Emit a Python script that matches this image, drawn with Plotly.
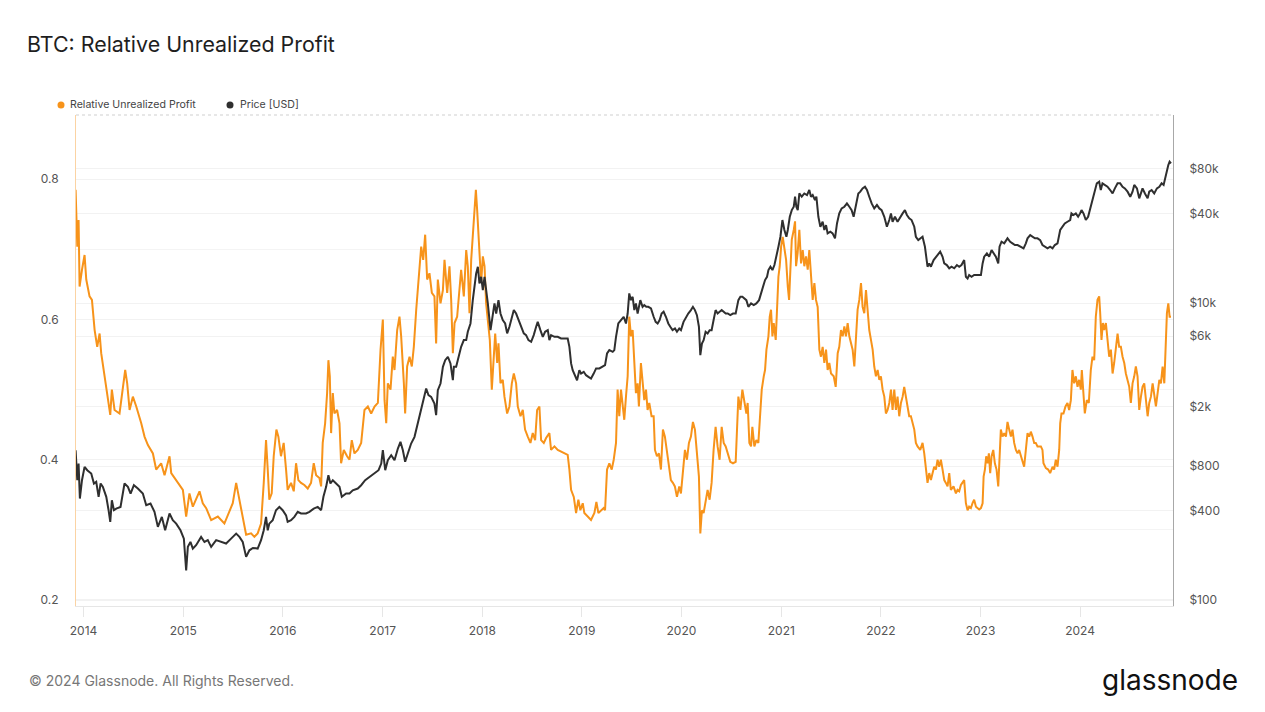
import pandas as pd
import plotly.graph_objects as go

# ---------------- data ----------------
# time given as decimal years
rup_years = [
    2013.920, 2013.937, 2013.950, 2013.960, 2013.984, 2014.010, 2014.027, 2014.060, 2014.084, 2014.111,
    2014.137, 2014.161, 2014.177, 2014.211, 2014.244, 2014.268, 2014.284, 2014.311, 2014.361, 2014.395,
    2014.418, 2014.438, 2014.462, 2014.495, 2014.529, 2014.579, 2014.612, 2014.646, 2014.696, 2014.729,
    2014.779, 2014.813, 2014.863, 2014.880, 2014.946, 2014.997, 2015.030, 2015.063, 2015.097, 2015.164,
    2015.197, 2015.231, 2015.281, 2015.348, 2015.414, 2015.465, 2015.498, 2015.532, 2015.565, 2015.582,
    2015.615, 2015.632, 2015.682,
    2015.715, 2015.748, 2015.782, 2015.809, 2015.832, 2015.849, 2015.865, 2015.889, 2015.909, 2015.936,
    2015.956, 2015.982, 2016.009, 2016.033, 2016.049, 2016.083, 2016.110, 2016.133, 2016.156, 2016.183,
    2016.216, 2016.250, 2016.283, 2016.310, 2016.334, 2016.367, 2016.384, 2016.400, 2016.424, 2016.444,
    2016.457, 2016.471, 2016.484, 2016.501, 2016.517, 2016.544, 2016.568, 2016.584, 2016.611, 2016.644,
    2016.668, 2016.691, 2016.718, 2016.751, 2016.785, 2016.818, 2016.852, 2016.885, 2016.919, 2016.952,
    2016.979, 2017.002, 2017.019, 2017.036, 2017.052, 2017.079, 2017.102, 2017.119, 2017.146, 2017.169,
    2017.186, 2017.213, 2017.226, 2017.246, 2017.270, 2017.293, 2017.313, 2017.337, 2017.360, 2017.387,
    2017.407, 2017.427, 2017.447, 2017.470, 2017.494, 2017.520, 2017.537,
    2017.554, 2017.581, 2017.605, 2017.621, 2017.648, 2017.671, 2017.688, 2017.705, 2017.722, 2017.748,
    2017.772, 2017.788, 2017.815, 2017.839, 2017.855, 2017.872, 2017.889, 2017.905, 2017.922, 2017.936,
    2017.949, 2017.962, 2017.976, 2017.989, 2018.006, 2018.023, 2018.039, 2018.056, 2018.076, 2018.096,
    2018.116, 2018.130, 2018.150, 2018.163, 2018.183, 2018.206, 2018.223, 2018.250, 2018.273, 2018.297,
    2018.317, 2018.340, 2018.357, 2018.384, 2018.407, 2018.430, 2018.457, 2018.484, 2018.507, 2018.531,
    2018.551, 2018.574, 2018.591, 2018.618, 2018.641, 2018.674, 2018.691, 2018.725, 2018.758, 2018.791,
    2018.825, 2018.858, 2018.875, 2018.892, 2018.919, 2018.942, 2018.965, 2018.985, 2019.009, 2019.025,
    2019.059, 2019.092, 2019.126, 2019.146, 2019.166, 2019.193, 2019.219, 2019.233, 2019.253, 2019.276,
    2019.300, 2019.320,
    2019.343, 2019.359, 2019.376, 2019.393, 2019.410, 2019.426, 2019.443, 2019.460, 2019.476, 2019.493,
    2019.510, 2019.527, 2019.543, 2019.560, 2019.573, 2019.593, 2019.610, 2019.627, 2019.644, 2019.660,
    2019.677, 2019.700, 2019.721, 2019.734, 2019.754, 2019.774, 2019.794, 2019.814, 2019.834, 2019.854,
    2019.878, 2019.894, 2019.914, 2019.934, 2019.955, 2019.978, 2019.995, 2020.015, 2020.035, 2020.055,
    2020.075, 2020.095, 2020.115, 2020.135, 2020.155, 2020.175, 2020.189, 2020.205, 2020.222, 2020.242,
    2020.262, 2020.282, 2020.302, 2020.322, 2020.342, 2020.362, 2020.382, 2020.403, 2020.423, 2020.443,
    2020.463, 2020.489, 2020.516, 2020.543, 2020.570, 2020.590, 2020.610, 2020.630, 2020.650, 2020.663,
    2020.680, 2020.697, 2020.710, 2020.730, 2020.750, 2020.770, 2020.784, 2020.804, 2020.824, 2020.837,
    2020.851, 2020.871, 2020.884, 2020.897, 2020.911, 2020.924, 2020.944, 2020.958, 2020.971, 2020.984,
    2020.998, 2021.014, 2021.031, 2021.048, 2021.065, 2021.078, 2021.091, 2021.105, 2021.125, 2021.138,
    2021.148, 2021.164, 2021.181, 2021.198, 2021.215, 2021.231, 2021.248, 2021.265, 2021.281, 2021.298,
    2021.315, 2021.332, 2021.348, 2021.365, 2021.382, 2021.398, 2021.415, 2021.432, 2021.449, 2021.465,
    2021.482, 2021.499, 2021.526, 2021.546, 2021.566, 2021.582, 2021.599, 2021.616, 2021.633, 2021.649,
    2021.666, 2021.683, 2021.699, 2021.716, 2021.733, 2021.750, 2021.766, 2021.783, 2021.800, 2021.816,
    2021.833, 2021.850, 2021.867, 2021.883, 2021.900, 2021.917, 2021.933, 2021.950, 2021.967, 2021.984,
    2022.000, 2022.017, 2022.034, 2022.050, 2022.067, 2022.084, 2022.101, 2022.117, 2022.134, 2022.151,
    2022.167, 2022.184, 2022.201, 2022.218, 2022.234, 2022.251, 2022.268, 2022.284, 2022.301, 2022.318,
    2022.335, 2022.351, 2022.368, 2022.395, 2022.418, 2022.435, 2022.452, 2022.468, 2022.485, 2022.502,
    2022.519, 2022.535, 2022.552, 2022.569, 2022.585, 2022.602, 2022.619, 2022.636, 2022.652, 2022.669,
    2022.686, 2022.702, 2022.729, 2022.753, 2022.769, 2022.786, 2022.803, 2022.819, 2022.836, 2022.853,
    2022.870, 2022.886, 2022.903, 2022.920, 2022.936,
    2022.954, 2022.970, 2022.987, 2023.004, 2023.021, 2023.031, 2023.044, 2023.057, 2023.071, 2023.084,
    2023.097, 2023.111, 2023.128, 2023.144, 2023.161, 2023.178, 2023.191, 2023.204, 2023.221, 2023.238,
    2023.255, 2023.271, 2023.288, 2023.305, 2023.321, 2023.338, 2023.355, 2023.372, 2023.388, 2023.405,
    2023.422, 2023.438, 2023.455, 2023.472, 2023.489, 2023.505, 2023.522, 2023.539, 2023.555, 2023.572,
    2023.606, 2023.622, 2023.632, 2023.656, 2023.679, 2023.699, 2023.723, 2023.739, 2023.756, 2023.773,
    2023.790, 2023.800, 2023.813, 2023.833, 2023.853, 2023.873, 2023.890, 2023.907, 2023.923, 2023.940,
    2023.957, 2023.974, 2023.990, 2024.007, 2024.017, 2024.034, 2024.047, 2024.067, 2024.087, 2024.107,
    2024.124, 2024.141, 2024.157, 2024.174, 2024.191, 2024.201, 2024.214, 2024.228, 2024.241, 2024.258,
    2024.274, 2024.291, 2024.308, 2024.325, 2024.341, 2024.358, 2024.375, 2024.391, 2024.408, 2024.425,
    2024.442, 2024.458, 2024.475, 2024.492, 2024.508, 2024.525, 2024.542, 2024.558, 2024.575, 2024.592,
    2024.609, 2024.625, 2024.642, 2024.659, 2024.676, 2024.692, 2024.709, 2024.726, 2024.742, 2024.759,
    2024.776, 2024.793, 2024.809, 2024.826, 2024.843, 2024.856, 2024.869, 2024.883, 2024.896, 2024.910,
]
rup_values = [
    0.785, 0.704, 0.742, 0.647, 0.671, 0.692, 0.657, 0.633, 0.628, 0.585,
    0.561, 0.580, 0.552, 0.519, 0.490, 0.464, 0.500, 0.471, 0.466, 0.504,
    0.528, 0.509, 0.471, 0.490, 0.476, 0.452, 0.433, 0.421, 0.409, 0.386,
    0.395, 0.378, 0.405, 0.381, 0.367, 0.357, 0.319, 0.352, 0.333, 0.355,
    0.338, 0.331, 0.314, 0.319, 0.309, 0.328, 0.338, 0.367, 0.343, 0.331,
    0.309, 0.293, 0.295,
    0.290, 0.295, 0.309, 0.367, 0.428, 0.386, 0.343, 0.352, 0.405, 0.443,
    0.433, 0.405, 0.424, 0.386, 0.357, 0.367, 0.355, 0.395, 0.371, 0.367,
    0.364, 0.359, 0.367, 0.395, 0.378, 0.374, 0.362, 0.424, 0.452, 0.495,
    0.542, 0.519, 0.438, 0.495, 0.466, 0.471, 0.452, 0.395, 0.414, 0.405,
    0.400, 0.428, 0.409, 0.414, 0.424, 0.471, 0.476, 0.466, 0.476, 0.481,
    0.557, 0.600, 0.485, 0.452, 0.509, 0.500, 0.547, 0.528, 0.585, 0.604,
    0.576, 0.509, 0.466, 0.533, 0.547, 0.533, 0.561, 0.614, 0.657, 0.704,
    0.685, 0.721, 0.657, 0.666, 0.638, 0.633, 0.566,
    0.657, 0.623, 0.642, 0.685, 0.638, 0.676, 0.628, 0.552, 0.595, 0.604,
    0.642, 0.671, 0.633, 0.699, 0.676, 0.609, 0.685, 0.718, 0.747, 0.785,
    0.756, 0.718, 0.685, 0.652, 0.690, 0.676, 0.623, 0.595, 0.571, 0.500,
    0.557, 0.580, 0.538, 0.566, 0.509, 0.514, 0.490, 0.466, 0.476, 0.509,
    0.523, 0.509, 0.476, 0.462, 0.471, 0.443, 0.433, 0.424, 0.438, 0.428,
    0.471, 0.476, 0.428, 0.424, 0.431, 0.438, 0.414, 0.419, 0.414, 0.412,
    0.409, 0.407, 0.386, 0.357, 0.347, 0.324, 0.343, 0.328, 0.338, 0.324,
    0.319, 0.314, 0.324, 0.340, 0.324, 0.328, 0.331, 0.328, 0.386, 0.395,
    0.386, 0.400,
    0.424, 0.500, 0.462, 0.500, 0.481, 0.457, 0.490, 0.519, 0.604, 0.576,
    0.585, 0.538, 0.495, 0.509, 0.476, 0.538, 0.514, 0.485, 0.500, 0.471,
    0.481, 0.462, 0.462, 0.414, 0.405, 0.409, 0.386, 0.443, 0.433, 0.414,
    0.386, 0.371, 0.367, 0.362, 0.347, 0.362, 0.352, 0.390, 0.414, 0.400,
    0.424, 0.433, 0.454, 0.443, 0.414, 0.376, 0.295, 0.328, 0.324, 0.338,
    0.357, 0.343, 0.367, 0.414, 0.447, 0.419, 0.400, 0.447, 0.424, 0.419,
    0.409, 0.397, 0.395, 0.397, 0.490, 0.471, 0.500, 0.485, 0.466, 0.481,
    0.424, 0.419, 0.447, 0.419, 0.428, 0.424, 0.457, 0.500, 0.519, 0.528,
    0.557, 0.576, 0.604, 0.614, 0.576, 0.595, 0.571, 0.623, 0.661, 0.676,
    0.704, 0.718, 0.704, 0.685, 0.647, 0.628, 0.671, 0.714, 0.728, 0.740,
    0.676, 0.695, 0.728, 0.680, 0.699, 0.676, 0.690, 0.671, 0.699, 0.661,
    0.628, 0.652, 0.628, 0.618, 0.557, 0.547, 0.561, 0.538, 0.557, 0.528,
    0.538, 0.523, 0.519, 0.504, 0.552, 0.561, 0.585, 0.576, 0.590, 0.576,
    0.595, 0.576, 0.566, 0.557, 0.533, 0.580, 0.614, 0.628, 0.652, 0.618,
    0.609, 0.642, 0.604, 0.585, 0.571, 0.557, 0.533, 0.519, 0.528, 0.514,
    0.519, 0.500, 0.490, 0.466, 0.471, 0.481, 0.500, 0.471, 0.500, 0.471,
    0.490, 0.462, 0.481, 0.490, 0.504, 0.490, 0.471, 0.462, 0.462, 0.452,
    0.443, 0.424, 0.419, 0.414, 0.424, 0.409, 0.386, 0.367, 0.381, 0.371,
    0.381, 0.390, 0.386, 0.400, 0.390, 0.400, 0.386, 0.371, 0.367, 0.362,
    0.381, 0.357, 0.362, 0.352, 0.357, 0.355, 0.364, 0.367, 0.371, 0.338,
    0.328, 0.333, 0.331, 0.338, 0.343,
    0.333, 0.331, 0.329, 0.331, 0.338, 0.376, 0.386, 0.405, 0.395, 0.409,
    0.381, 0.405, 0.414, 0.395, 0.386, 0.362, 0.414, 0.443, 0.433, 0.438,
    0.433, 0.454, 0.443, 0.433, 0.443, 0.424, 0.414, 0.409, 0.414, 0.405,
    0.400, 0.390, 0.414, 0.438, 0.433, 0.440, 0.433, 0.424, 0.424, 0.419,
    0.419, 0.414, 0.395, 0.388, 0.386, 0.381, 0.390, 0.386, 0.400, 0.390,
    0.414, 0.452, 0.466, 0.466, 0.476, 0.481, 0.471, 0.485, 0.528, 0.509,
    0.519, 0.504, 0.514, 0.500, 0.528, 0.495, 0.466, 0.485, 0.481, 0.528,
    0.547, 0.542, 0.604, 0.628, 0.633, 0.609, 0.571, 0.595, 0.585, 0.595,
    0.566, 0.547, 0.557, 0.523, 0.538, 0.557, 0.580, 0.561, 0.561, 0.547,
    0.538, 0.523, 0.514, 0.504, 0.481, 0.509, 0.519, 0.533, 0.519, 0.471,
    0.490, 0.504, 0.509, 0.481, 0.462, 0.481, 0.490, 0.509, 0.490, 0.476,
    0.495, 0.514, 0.509, 0.533, 0.509, 0.557, 0.609, 0.623, 0.604, 0.604,
]

price_years = [
    2013.920, 2013.937, 2013.950, 2013.963, 2013.984, 2014.010, 2014.037, 2014.077, 2014.104, 2014.127,
    2014.151, 2014.171, 2014.194, 2014.228, 2014.251, 2014.268, 2014.284, 2014.305, 2014.328, 2014.371,
    2014.411, 2014.445, 2014.472, 2014.505, 2014.545, 2014.595, 2014.629, 2014.672, 2014.712, 2014.746,
    2014.786, 2014.819, 2014.863, 2014.896, 2014.930, 2014.973, 2015.007, 2015.030, 2015.047, 2015.073,
    2015.097, 2015.130, 2015.180, 2015.214, 2015.247, 2015.281, 2015.331, 2015.381, 2015.431, 2015.481,
    2015.532, 2015.565, 2015.598, 2015.632, 2015.665, 2015.700,
    2015.748, 2015.782, 2015.809, 2015.832, 2015.849, 2015.865, 2015.899, 2015.932, 2015.966, 2015.999,
    2016.033, 2016.049, 2016.083, 2016.116, 2016.150, 2016.183, 2016.233, 2016.267, 2016.310, 2016.350,
    2016.384, 2016.407, 2016.434, 2016.457, 2016.477, 2016.501, 2016.534, 2016.568, 2016.591, 2016.634,
    2016.668, 2016.701, 2016.751, 2016.785, 2016.825, 2016.868, 2016.919, 2016.959, 2016.986, 2017.002,
    2017.026, 2017.052, 2017.086, 2017.119, 2017.153, 2017.179, 2017.203, 2017.226, 2017.253, 2017.286,
    2017.320, 2017.353, 2017.387, 2017.414, 2017.437, 2017.460, 2017.487, 2017.520, 2017.537, 2017.554,
    2017.581, 2017.605, 2017.628, 2017.655, 2017.681, 2017.705, 2017.715, 2017.738, 2017.762, 2017.788,
    2017.815, 2017.839, 2017.855, 2017.882, 2017.905, 2017.922, 2017.939, 2017.956, 2017.972, 2017.989,
    2018.006, 2018.023, 2018.039, 2018.056, 2018.083, 2018.106, 2018.123, 2018.140, 2018.163, 2018.183,
    2018.206, 2018.230, 2018.250, 2018.273, 2018.297, 2018.317, 2018.340, 2018.364, 2018.390, 2018.417,
    2018.440, 2018.464, 2018.491, 2018.517, 2018.541, 2018.557, 2018.584, 2018.608, 2018.631, 2018.658,
    2018.674, 2018.691, 2018.725, 2018.758, 2018.791, 2018.825, 2018.858, 2018.875, 2018.892, 2018.908,
    2018.925, 2018.952, 2018.975, 2018.992, 2019.019, 2019.042, 2019.066, 2019.092, 2019.119, 2019.143,
    2019.176, 2019.209, 2019.233, 2019.253, 2019.276, 2019.310,
    2019.326, 2019.343, 2019.366, 2019.393, 2019.420, 2019.443, 2019.460, 2019.476, 2019.493, 2019.510,
    2019.527, 2019.543, 2019.560, 2019.587, 2019.610, 2019.627, 2019.647, 2019.667, 2019.694, 2019.721,
    2019.741, 2019.761, 2019.781, 2019.801, 2019.821, 2019.844, 2019.868, 2019.888, 2019.911, 2019.935,
    2019.955, 2019.978, 2019.995, 2020.021, 2020.045, 2020.068, 2020.095, 2020.115, 2020.135, 2020.155,
    2020.175, 2020.189, 2020.205, 2020.222, 2020.242, 2020.262, 2020.282, 2020.302, 2020.322, 2020.342,
    2020.362, 2020.382, 2020.403, 2020.423, 2020.443, 2020.463, 2020.489, 2020.516, 2020.543, 2020.570,
    2020.590, 2020.610, 2020.630, 2020.650, 2020.670, 2020.697, 2020.724, 2020.750, 2020.777, 2020.797,
    2020.817, 2020.837, 2020.857, 2020.871, 2020.891, 2020.911, 2020.931, 2020.951, 2020.971, 2020.991,
    2021.011, 2021.031, 2021.051, 2021.065, 2021.085, 2021.105, 2021.125, 2021.138, 2021.151, 2021.165,
    2021.181, 2021.205, 2021.231, 2021.258, 2021.281, 2021.298, 2021.315, 2021.338, 2021.352, 2021.372,
    2021.392, 2021.415, 2021.432, 2021.449, 2021.465, 2021.492, 2021.515, 2021.539, 2021.559, 2021.582,
    2021.606, 2021.633, 2021.659, 2021.683, 2021.706, 2021.726, 2021.750, 2021.773, 2021.793, 2021.816,
    2021.840, 2021.860, 2021.883, 2021.907, 2021.933, 2021.960, 2021.984, 2022.007, 2022.034, 2022.060,
    2022.084, 2022.101, 2022.117, 2022.141, 2022.167, 2022.194, 2022.218, 2022.241, 2022.261, 2022.284,
    2022.308, 2022.335, 2022.351, 2022.375, 2022.401, 2022.418, 2022.442, 2022.455, 2022.468, 2022.485,
    2022.502, 2022.529, 2022.552, 2022.575, 2022.595, 2022.619, 2022.636, 2022.662, 2022.686, 2022.709,
    2022.736, 2022.763, 2022.786, 2022.809, 2022.836, 2022.853, 2022.870, 2022.886, 2022.910, 2022.936,
    2022.970, 2023.004, 2023.021, 2023.037, 2023.064, 2023.087, 2023.111, 2023.131, 2023.154, 2023.178,
    2023.191, 2023.211, 2023.238, 2023.271, 2023.298, 2023.321, 2023.345, 2023.372, 2023.405, 2023.432,
    2023.455, 2023.472, 2023.499, 2023.522, 2023.546, 2023.572, 2023.599, 2023.622, 2023.646, 2023.673,
    2023.699, 2023.723, 2023.746, 2023.773, 2023.800, 2023.823, 2023.846, 2023.873, 2023.900, 2023.913,
    2023.933, 2023.957, 2023.980, 2024.000, 2024.014, 2024.034, 2024.057, 2024.080, 2024.107, 2024.124,
    2024.147, 2024.167, 2024.191, 2024.207, 2024.224, 2024.248, 2024.274, 2024.301, 2024.325, 2024.348,
    2024.375, 2024.401, 2024.425, 2024.448, 2024.475, 2024.502, 2024.525, 2024.542, 2024.569, 2024.592,
    2024.609, 2024.625, 2024.649, 2024.676, 2024.692, 2024.716, 2024.742, 2024.769, 2024.793, 2024.816,
    2024.836, 2024.853, 2024.869, 2024.883, 2024.896, 2024.910,
]
price_values = [
    1023, 643, 832, 484, 643, 791, 751, 713, 611, 627,
    497, 611, 580, 497, 404, 337, 471, 404, 414, 425,
    611, 580, 523, 595, 565, 523, 436, 448, 394, 312,
    364, 296, 384, 346, 328, 296, 260, 159, 229, 247,
    223, 235, 267, 247, 254, 229, 254, 247, 241, 260,
    281, 267, 247, 196, 217, 225,
    223, 254, 296, 364, 296, 328, 346, 404, 425, 404,
    373, 337, 346, 364, 394, 384, 384, 394, 414, 425,
    404, 497, 580, 695, 611, 643, 611, 580, 497, 523,
    523, 550, 565, 595, 643, 677, 713, 751, 832, 1023,
    751, 877, 947, 877, 1050, 1164, 1023, 855, 972, 1135,
    1259, 1548, 1903, 2222, 2662, 2402, 2340, 2110, 1761, 2596,
    2877, 3724, 4130, 4355, 3926, 3027, 3724, 3724, 4355, 5082,
    5636, 5636, 6412, 7296, 10470, 13550, 15840, 17570, 13550, 15040,
    12240, 15040, 11620, 9950, 6577, 8091, 9950, 8511, 10470, 8511,
    7691, 7296, 6252, 6935, 8091, 8974, 8511, 7691, 6935, 6252,
    6095, 5636, 5495, 6095, 6935, 7482, 6577, 5933, 6412, 6577,
    5636, 6095, 5933, 5933, 5781, 5781, 5781, 5082, 3926, 3540,
    3357, 3027, 3540, 3357, 3449, 3273, 3190, 3110, 3357, 3633,
    3633, 3724, 3827, 4581, 4827, 4701,
    4827, 5933, 7296, 7691, 8091, 7296, 8511, 11620, 10470, 11030,
    8974, 9950, 8511, 10470, 9441, 9690, 9441, 9441, 9206, 8091,
    7482, 7296, 7691, 8511, 8750, 8091, 7296, 6935, 6577, 6745,
    6412, 6745, 6577, 7482, 8091, 8511, 8974, 9441, 8974, 8298,
    6935, 4467, 5346, 5636, 6412, 6252, 6577, 6577, 7691, 8974,
    8511, 8750, 8974, 8750, 8511, 8511, 8298, 8511, 8511, 10470,
    11030, 11030, 10740, 10470, 9441, 9950, 9690, 9950, 10470, 11620,
    12880, 14290, 15040, 16680, 17570, 16680, 18040, 20520, 23950, 27970,
    36230, 31040, 27970, 31040, 38120, 42270, 44540, 52000, 44540, 42270,
    54700, 52000, 54700, 53350, 57680, 52000, 53350, 49430, 52000, 38120,
    32660, 35290, 31040, 33490, 29460, 30250, 29460, 27290, 34370, 40160,
    43370, 44540, 46880, 44540, 42270, 38120, 46880, 54700, 56230, 59160,
    60700, 57680, 52000, 46880, 43370, 45710, 43370, 42270, 38120, 32660,
    36230, 40160, 35290, 38120, 35290, 38120, 40160, 42270, 39180, 37170,
    36230, 32660, 27970, 26550, 27290, 27970, 23950, 19500, 17570, 18500,
    17570, 19500, 20520, 21610, 22190, 20520, 18500, 18040, 17150, 17570,
    17150, 18040, 17570, 18040, 19500, 15040, 14660, 15450, 15040, 15450,
    15450, 15450, 18500, 20520, 21610, 20520, 22750, 21610, 20520, 18500,
    23950, 25880, 25240, 27290, 25880, 25240, 24600, 24600, 23950, 23350,
    25240, 27290, 28710, 27970, 27290, 27290, 26550, 24600, 23950, 23350,
    23950, 23350, 24600, 25240, 31040, 32660, 34370, 35290, 36230, 40160,
    39180, 40160, 38120, 40160, 42270, 40160, 36230, 38120, 44540, 48210,
    54700, 64000, 65600, 57680, 64000, 62380, 60700, 57680, 54700, 59160,
    64000, 64000, 60700, 59160, 56230, 52000, 56230, 62380, 59160, 50700,
    56230, 59160, 54700, 50700, 56230, 57680, 54700, 59160, 60700, 64000,
    62380, 70960, 80700, 84930, 89490, 87170,
]

year_ticks = [2014, 2015, 2016, 2017, 2018, 2019, 2020, 2021, 2022, 2023, 2024]
rup_tick_vals = [0.2, 0.4, 0.6, 0.8]
rup_tick_text = ["0.2", "0.4", "0.6", "0.8"]
price_tick_vals = [100, 400, 800, 2000, 6000, 10000, 40000, 80000]
price_tick_text = ["$100", "$400", "$800", "$2k", "$6k", "$10k", "$40k", "$80k"]

ORANGE = "#f7931a"
DARK = "#2f2f2f"


def to_date(y):
    yr = int(y)
    start = pd.Timestamp(year=yr, month=1, day=1)
    end = pd.Timestamp(year=yr + 1, month=1, day=1)
    return start + (y - yr) * (end - start)


rup_dates = [to_date(v) for v in rup_years]
price_dates = [to_date(v) for v in price_years]

fig = go.Figure()
fig.add_trace(go.Scatter(
    x=rup_dates, y=rup_values, mode="lines", name="Relative Unrealized Profit",
    line=dict(color=ORANGE, width=2), yaxis="y", showlegend=False,
))
fig.add_trace(go.Scatter(
    x=price_dates, y=price_values, mode="lines", name="Price [USD]",
    line=dict(color=DARK, width=2), yaxis="y2", showlegend=False,
))

W, H = 1265, 712
ML, MR, MT, MB = 76, 92, 115, 106
PW, PH = W - ML - MR, H - MT - MB


def px(xp):
    return (xp - ML) / PW


def py(yp):
    return (H - MB - yp) / PH


FONT = "Inter, 'Open Sans', sans-serif"
TICKFONT = dict(family=FONT, size=12, color="#555555")

fig.update_layout(
    width=W, height=H,
    margin=dict(l=ML, r=MR, t=MT, b=MB),
    paper_bgcolor="white", plot_bgcolor="white",
    title=dict(text="BTC: Relative Unrealized Profit", x=27 / W, xanchor="left",
               xref="container", yref="container", y=1 - 45 / H, yanchor="middle",
               font=dict(family=FONT, size=21.4, color="#1e1e1e")),
    showlegend=False,
    xaxis=dict(
        type="date", range=[to_date(2013.924), to_date(2024.93)],
        tickvals=[pd.Timestamp(year=y, month=1, day=1) for y in year_ticks],
        ticktext=[str(y) for y in year_ticks],
        ticks="outside", ticklen=10, tickcolor="#e6e6e6", tickwidth=1,
        showgrid=False, zeroline=False,
        showline=True, linecolor="#e6e6e6", linewidth=1,
        tickfont=TICKFONT, ticklabelstandoff=4,
    ),
    yaxis=dict(
        range=[0.1914, 0.8917],
        tickvals=rup_tick_vals, ticktext=rup_tick_text,
        showgrid=True, gridcolor="#f2f2f2", gridwidth=1,
        minor=dict(tickvals=[0.3, 0.5, 0.7], showgrid=True, gridcolor="#f4f4f4"),
        zeroline=False, ticks="",
        showline=True, linecolor="#fbd3a3", linewidth=1,
        tickfont=TICKFONT, ticklabelstandoff=14,
    ),
    yaxis2=dict(
        type="log", range=[1.9616, 5.266], overlaying="y", side="right",
        tickvals=price_tick_vals, ticktext=price_tick_text,
        showgrid=True, gridcolor="#f2f2f2", gridwidth=1,
        zeroline=False, ticks="",
        showline=True, linecolor="#a8a8a8", linewidth=1,
        tickfont=TICKFONT, ticklabelstandoff=13,
    ),
    shapes=[
        dict(type="line", xref="paper", yref="paper", x0=0, x1=1, y0=1, y1=1,
             line=dict(color="#cfcfcf", width=1, dash="dot")),
        dict(type="circle", xref="paper", yref="paper", xsizemode="pixel", ysizemode="pixel",
             xanchor=px(61), yanchor=py(105), x0=-3.5, x1=3.5, y0=-3.5, y1=3.5,
             fillcolor=ORANGE, line=dict(width=0)),
        dict(type="circle", xref="paper", yref="paper", xsizemode="pixel", ysizemode="pixel",
             xanchor=px(230), yanchor=py(105), x0=-3.5, x1=3.5, y0=-3.5, y1=3.5,
             fillcolor=DARK, line=dict(width=0)),
    ],
    annotations=[
        dict(text="Relative Unrealized Profit", xref="paper", yref="paper",
             x=px(68), y=py(105), xanchor="left", yanchor="middle", showarrow=False,
             font=dict(family=FONT, size=10.6, color="#444444")),
        dict(text="Price [USD]", xref="paper", yref="paper",
             x=px(238), y=py(105), xanchor="left", yanchor="middle", showarrow=False,
             font=dict(family=FONT, size=10.6, color="#444444")),
        dict(text="© 2024 Glassnode. All Rights Reserved.", xref="paper", yref="paper",
             x=px(27), y=py(680), xanchor="left", yanchor="middle", showarrow=False,
             font=dict(family=FONT, size=14, color="#777777")),
        dict(text="glassnode", xref="paper", yref="paper",
             x=px(1240), y=py(680), xanchor="right", yanchor="middle", showarrow=False,
             font=dict(family=FONT, size=28, color="#111111")),
    ],
)

fig.write_html("out.html", config={"displayModeBar": False},
               post_script="document.body.style.margin='0px';")
